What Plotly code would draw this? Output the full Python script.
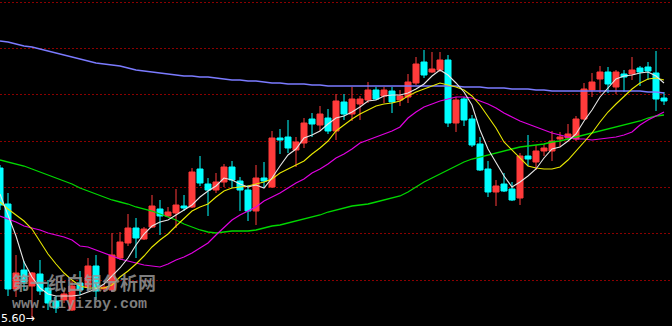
import plotly.graph_objects as go

# ---- data (price units) ----
idx = list(range(84))
opens = [158,122,37,56,40,52,38,25,26,16,
         43,39,60,37,36,68,83,98,87,99,
         117,110,113,120,119,157,142,136,144,159,
         145,136,115,148,139,188,189,176,183,207,
         201,208,195,224,212,222,226,236,230,235,
         226,229,243,264,254,256,266,203,227,207,
         182,157,134,142,137,128,170,164,175,175,
         187,188,187,207,236,247,254,239,252,252,
         258,259,253,228]
highs = [161,133,71,65,54,66,46,30,35,45,
         55,68,71,42,93,94,112,108,99,131,
         126,119,137,131,158,170,148,153,162,165,
         149,141,161,164,195,197,206,189,208,213,
         220,217,232,232,239,230,244,239,239,239,
         236,252,269,276,274,274,271,229,229,211,
         189,165,146,153,144,173,191,181,182,195,
         194,202,210,243,253,260,259,256,256,269,
         260,264,275,234]
lows = [116,30,29,35,8,31,16,13,23,15,
        31,36,26,34,34,66,80,68,86,98,
        91,109,98,115,118,140,110,133,139,138,
        115,105,101,138,138,172,173,159,178,189,
        195,192,186,206,205,206,223,226,223,213,
        220,223,241,248,253,254,199,194,200,179,
        155,129,120,134,125,121,160,156,170,165,
        179,186,185,206,229,233,233,232,234,246,
        240,246,215,221]
closes = [121,37,53,44,53,35,23,18,32,40,
          36,60,35,39,71,84,98,88,97,120,
          110,114,121,118,154,143,136,144,159,146,
          136,115,148,145,188,186,178,184,203,202,
          212,195,225,212,227,227,236,227,236,224,
          230,244,262,251,257,266,203,226,206,181,
          156,134,140,135,126,170,167,175,178,185,
          189,192,207,237,244,254,242,254,249,256,
          254,255,227,225]

ma_white = [132,111,90,64,49,38,32,30,30,30,
            31,34,37,42,50,58,68,81,92,100,
            104,106,111,116,121,129,135,140,148,146,
            142,139,141,138,148,160,171,177,188,191,
            195,202,208,210,214,219,225,226,230,231,
            231,233,237,242,250,256,251,243,234,221,
            196,177,163,150,139,144,150,157,168,177,
            179,185,192,205,216,229,238,247,250,251,
            253,254,250,243]
ma_yellow = [124,117,111,105,97,85,72,62,53,46,
             40,38,38,38,41,49,55,62,70,79,
             86,92,100,108,115,119,122,129,135,138,
             139,140,142,144,147,153,157,161,165,172,
             178,185,195,201,207,212,216,220,222,223,
             225,230,234,237,240,243,241,239,236,230,
             221,210,198,184,176,167,160,158,157,157,
             159,166,175,184,193,204,214,222,230,237,
             243,247,248,246]
ma_magenta = [110,107,104,100,98,96,93,91,89,86,
              80,79,76,73,70,67,65,63,61,60,
              59,62,66,69,73,78,83,91,99,106,
              111,115,119,125,129,133,138,143,147,153,
              157,162,168,172,177,183,186,189,192,195,
              199,208,214,219,222,225,227,229,229,228,
              225,222,218,213,209,205,202,199,196,193,
              191,189,187,187,186,187,188,189,191,194,
              201,206,210,214]
ma_green = [166,164,162,160,157,154,151,148,145,142,
            138,135,132,129,126,124,122,119,117,115,
            112,109,106,102,99,96,94,93,94,95,
            95,95,96,98,100,101,103,105,107,109,
            111,114,116,118,120,121,122,124,126,128,
            130,134,139,144,148,152,156,160,164,167,
            169,171,173,175,177,179,180,181,182,184,
            185,187,189,191,193,195,197,199,201,203,
            205,208,210,211]
ma_blue = [285,284,282,280,279,277,275,273,271,269,
           267,265,263,262,261,260,258,256,255,254,
           253,252,251,250,250,249,249,248,247,246,
           246,245,245,244,243,243,242,242,242,241,
           241,240,240,240,240,240,240,240,240,240,
           240,240,240,240,240,240,240,240,239,239,
           239,238,238,238,237,237,237,236,236,235,
           235,235,235,235,235,235,235,235,235,235,
           235,234,234,233]

grid_levels = [323.8, 277.5, 231.2, 184.9, 138.6, 92.3, 46.0]
low_label = "5.60→"
watermark_cn = "第一纸白银分析网"
watermark_url = "www.diyizby.com"

UP = "#FF3B3B"
DOWN = "#00FFFF"

fig = go.Figure()
fig.add_trace(go.Candlestick(
    x=idx, open=opens, high=highs, low=lows, close=closes,
    increasing=dict(line=dict(color=UP, width=1), fillcolor=UP),
    decreasing=dict(line=dict(color=DOWN, width=1), fillcolor=DOWN),
    whiskerwidth=0, showlegend=False, hoverinfo="skip",
))

for vals, col, w in [(ma_blue, "#7B7BFF", 1.3), (ma_green, "#00D800", 1.3),
                     (ma_magenta, "#E000E0", 1.2), (ma_yellow, "#E8E800", 1.1),
                     (ma_white, "#E6E6E6", 1.1)]:
    fig.add_trace(go.Scatter(x=idx, y=vals, mode="lines",
                             line=dict(color=col, width=w),
                             showlegend=False, hoverinfo="skip"))

fig.add_annotation(xref="paper", yref="paper", x=10/672, y=1-282/326,
                   xanchor="left", yanchor="middle", showarrow=False,
                   text=watermark_cn,
                   font=dict(family="Noto Sans CJK SC", size=18, weight="bold",
                             color="rgba(150,150,150,0.85)"))
fig.add_annotation(xref="paper", yref="paper", x=10/672, y=1-304/326,
                   xanchor="left", yanchor="middle", showarrow=False,
                   text=watermark_url,
                   font=dict(family="Liberation Mono", size=15, weight="bold",
                             color="rgba(150,150,150,0.85)"))
fig.add_annotation(xref="paper", yref="paper", x=-1/672, y=1-318/326,
                   xanchor="left", yanchor="middle", showarrow=False,
                   text=low_label,
                   font=dict(family="DejaVu Sans", size=11, color="#FFFFFF"))

fig.update_layout(
    width=672, height=326,
    margin=dict(l=0, r=0, t=0, b=0),
    paper_bgcolor="#000000", plot_bgcolor="#000000",
    boxgap=0.25, boxgroupgap=0,
    xaxis=dict(range=[0, 84], showgrid=False, zeroline=False, showticklabels=False,
               showline=False, rangeslider=dict(visible=False), fixedrange=True),
    yaxis=dict(range=[0, 326], tickvals=grid_levels, showticklabels=False,
               showgrid=True, gridcolor="#8B0000", griddash="2px,2px", gridwidth=1,
               zeroline=False, showline=False, fixedrange=True),
)

fig.write_html("out.html", config={"displayModeBar": False})
